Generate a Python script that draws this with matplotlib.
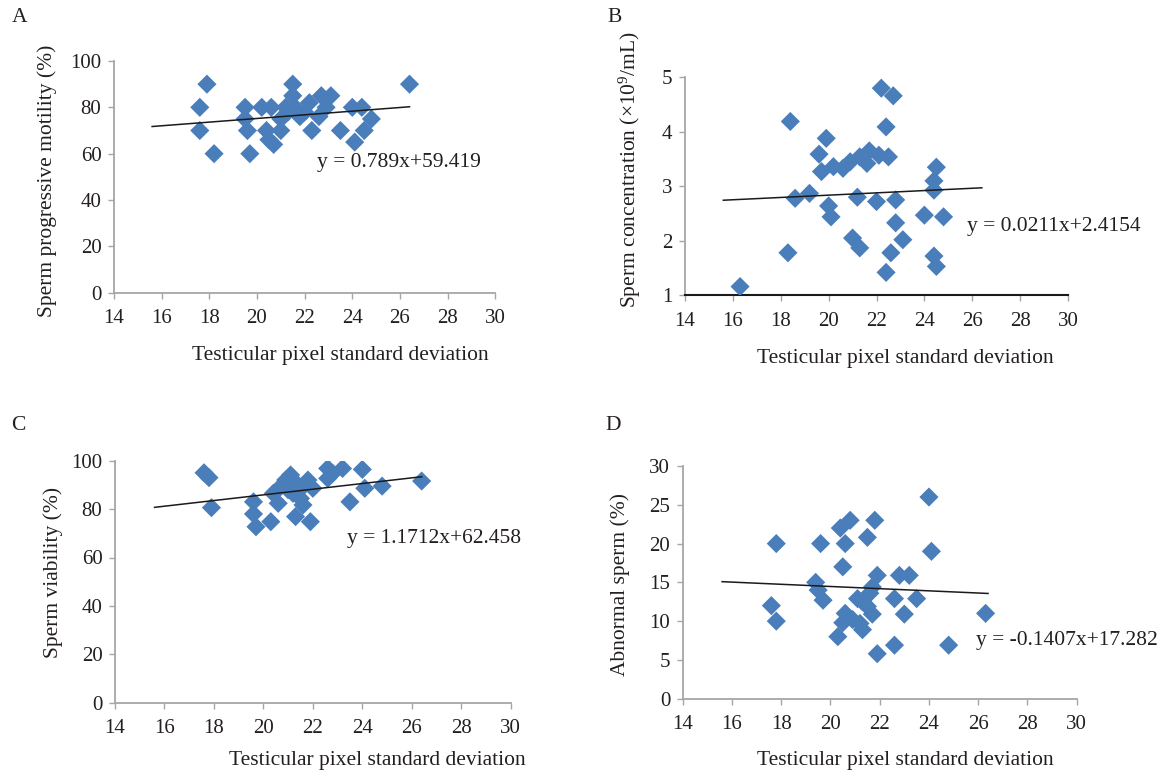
import numpy as np
import matplotlib.pyplot as plt

plt.rcParams['font.family'] = ['Liberation Serif', 'DejaVu Serif']
plt.rcParams['mathtext.fontset'] = 'custom'
plt.rcParams['mathtext.rm'] = 'Liberation Serif'
plt.rcParams['mathtext.it'] = 'Liberation Serif:italic'

# panel A - sperm progressive motility
a_x = [17.6, 17.6, 17.9, 18.2, 19.5, 19.5, 19.6, 19.7, 20.2, 20.6, 20.4, 20.5,
       20.7, 21.0, 21.0, 21.2, 21.5, 21.5, 21.6, 21.8, 22.0, 22.3, 22.6, 22.7,
       22.9, 23.1, 23.5, 24.0, 24.1, 24.4, 24.5, 24.8, 26.4, 21.3, 22.2]
a_y = [80, 70, 90, 60, 80, 75, 70, 60, 80, 80, 70, 66,
       64, 70, 75, 80, 90, 85, 80, 76, 78, 70, 76, 85,
       80, 85, 70, 80, 65, 80, 70, 75, 90, 78, 82]

# panel B - sperm concentration
b_x = [16.3, 18.4, 18.6, 18.3, 19.2, 19.6, 19.7, 19.9, 20.0, 20.1, 20.2, 20.6,
       20.9, 21.0, 21.3, 21.2, 21.3, 21.6, 21.7, 22.0, 22.1, 22.2, 22.4, 22.7,
       22.5, 22.8, 22.8, 22.6, 22.4, 23.1, 24.0, 24.4, 24.5, 24.4, 24.8, 24.4, 24.5]
b_y = [1.16, 4.19, 2.78, 1.78, 2.87, 3.59, 3.27, 3.88, 2.64, 2.44, 3.36, 3.33,
       3.45, 2.05, 1.87, 2.80, 3.54, 3.42, 3.65, 2.72, 3.57, 4.80, 4.09, 4.66,
       3.54, 2.75, 2.33, 1.78, 1.42, 2.02, 2.47, 3.10, 3.35, 2.93, 2.44, 1.72, 1.53]

# panel C - sperm viability
c_x = [17.6, 17.8, 17.9, 19.6, 19.6, 19.7, 20.3, 20.4, 20.6, 20.7, 20.9, 21.1,
       21.2, 21.3, 21.5, 21.6, 21.8, 21.9, 22.0, 21.6, 22.6, 22.6, 22.8, 23.2,
       23.5, 24.0, 24.1, 24.8, 26.4, 21.0, 21.4]
c_y = [95, 93, 80.6, 83, 78, 72.7, 74.8, 86.5, 82.4, 89.3, 92, 94.1,
       86.5, 76.9, 84.4, 89.3, 92, 74.8, 88.6, 81.7, 92.7, 96.8, 94.8, 96.8,
       83, 96.4, 88.6, 89.5, 91.6, 88, 90]

# panel D - abnormal sperm
d_x = [17.8, 17.6, 17.8, 19.6, 19.4, 19.5, 19.7, 20.4, 20.8, 20.6, 20.5, 20.3,
       20.5, 20.6, 20.9, 21.3, 21.2, 21.1, 21.3, 21.5, 21.6, 21.7, 21.9, 21.8,
       21.9, 21.7, 21.5, 22.6, 22.6, 22.8, 23.2, 23.0, 23.5, 24.0, 24.1, 24.8, 26.3]
d_y = [20, 12, 10, 20, 15, 14, 12.7, 22, 23, 20, 17, 8,
       9.8, 11, 10.2, 8.9, 9.7, 12.9, 12.5, 20.8, 13.6, 14.4, 15.9, 23,
       5.8, 10.9, 11.9, 12.9, 6.9, 15.9, 15.9, 10.9, 12.9, 26, 19, 6.9, 11]

# fitted trend lines (slope, intercept) as printed on the chart
fits = [(0.789, 59.419), (0.0211, 2.4154), (1.1712, 62.458), (-0.1407, 17.282)]
eq_texts = ['y = 0.789x+59.419', 'y = 0.0211x+2.4154',
            'y = 1.1712x+62.458', 'y = -0.1407x+17.282']
eq_pos = [(22.5, 56), (25.8, 2.26), (23.37, 67.9), (25.92, 7.56)]

ylabels = ['Sperm progressive motility (%)', 'Sperm concentration (×$10^{9}$/mL)',
           'Sperm viability (%)', 'Abnormal sperm (%)']
ylims = [(0, 100), (1, 5), (0, 100), (0, 30)]
yticks = [np.arange(0, 101, 20), np.arange(1, 6, 1), np.arange(0, 101, 20), np.arange(0, 31, 5)]
xticks = np.arange(14, 31, 2)
letters = ['A', 'B', 'C', 'D']

W, H = 1167, 774
fig = plt.figure(figsize=(W / 100, H / 100), dpi=100)

# axes boxes in pixels: left, right, top, bottom
boxes = [(114, 495.3, 61, 292.7), (685, 1068, 77.3, 295.3),
         (115, 510.7, 460.7, 702.7), (682.7, 1076.7, 466, 698.7)]
xlab_pos = [(340, 355), (905.7, 358), (377.5, 760), (905.7, 760)]
ylab_pos = [(46.7, 180.7), (630, 170), (53, 572), (620, 585)]
letter_pos = [(20, 18), (615, 17), (18, 425), (613, 425)]

xs = [a_x, b_x, c_x, d_x]
ys = [a_y, b_y, c_y, d_y]
txt_col = '#231f20'
blue = '#4a7ebb'
grey = '#a6a6a6'
fs = 15.5

for i in range(4):
    l, r, t, b = boxes[i]
    ax = fig.add_axes([l / W, 1 - b / H, (r - l) / W, (b - t) / H])
    ax.scatter(xs[i], ys[i], marker='D', s=95, color=blue, edgecolors='none', zorder=3)
    lx = np.array([15.6, 26.4])
    ax.plot(lx, fits[i][0] * lx + fits[i][1], color='#1a1a1a', lw=1.1, zorder=4)
    ax.set_xlim(14, 30)
    ax.set_ylim(*ylims[i])
    ax.set_xticks(xticks)
    ax.set_yticks(yticks[i])
    for s in ['top', 'right']:
        ax.spines[s].set_visible(False)
    for s in ['left', 'bottom']:
        ax.spines[s].set_color(grey)
        ax.spines[s].set_linewidth(1.3)
    if i == 1:
        ax.spines['bottom'].set_color('#1a1a1a')
        ax.spines['bottom'].set_linewidth(1.5)
    ax.tick_params(direction='out', length=4, width=1, color=grey,
                   labelsize=15, labelcolor=txt_col)
    ax.tick_params(axis='x', pad=8)
    ax.tick_params(axis='y', pad=5)
    ax.text(eq_pos[i][0], eq_pos[i][1], eq_texts[i], fontsize=fs, color=txt_col,
            ha='left', va='center', clip_on=False)
    fig.text(xlab_pos[i][0] / W, 1 - xlab_pos[i][1] / H, 'Testicular pixel standard deviation',
             fontsize=fs, color=txt_col, ha='center', va='center')
    fig.text(ylab_pos[i][0] / W, 1 - ylab_pos[i][1] / H, ylabels[i], rotation=90,
             fontsize=fs, color=txt_col, ha='center', va='center')
    fig.text(letter_pos[i][0] / W, 1 - letter_pos[i][1] / H, letters[i],
             fontsize=fs, color=txt_col, ha='center', va='center')

fig.savefig('out.png', dpi=100)
